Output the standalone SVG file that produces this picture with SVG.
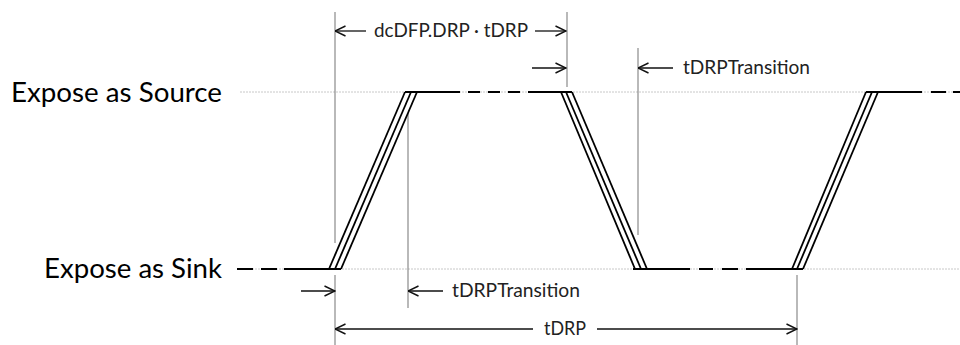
<svg xmlns="http://www.w3.org/2000/svg" width="960" height="345" viewBox="0 0 960 345">
  <defs>
    <marker id="arr" viewBox="0 0 12 12" refX="11.5" refY="6" markerWidth="12" markerHeight="12" markerUnits="userSpaceOnUse" orient="auto">
      <path d="M1,1 L11.5,6 L1,11" fill="none" stroke="#111" stroke-width="1.4"/>
    </marker>
  </defs>
  <style>
    .lbl { font-family: Lato, "Liberation Sans", sans-serif; font-size: 26px; fill: #000; }
    .dim { font-family: Lato, "Liberation Sans", sans-serif; font-size: 19px; fill: #222; }
    .guide { stroke: #c8c8c8; stroke-width: 1; stroke-dasharray: 2 1; fill: none; }
    .ref { stroke: #8a8a8a; stroke-width: 1.2; fill: none; }
    .wave { stroke: #000; stroke-width: 2.2; fill: none; }
    .slope { stroke: #000; stroke-width: 1.8; fill: none; }
    .dash { stroke: #000; stroke-width: 2.2; fill: none; }
    .conn { stroke: #111; stroke-width: 1.3; fill: none; marker-end: url(#arr); }
  </style>
  <rect width="960" height="345" fill="#fff"/>

  <g id="guides">
    <line class="guide" x1="240" y1="92" x2="960" y2="92"/>
    <line class="guide" x1="240" y1="269" x2="960" y2="269"/>
  </g>

  <g id="labels">
    <text class="lbl" x="11" y="102" textLength="211" lengthAdjust="spacingAndGlyphs">Expose as Source</text>
    <text class="lbl" x="44" y="278" textLength="178" lengthAdjust="spacingAndGlyphs">Expose as Sink</text>
  </g>

  <g id="reference-lines">
    <line class="ref" x1="335" y1="12" x2="335" y2="243"/>
    <line class="ref" x1="335" y1="275" x2="335" y2="345"/>
    <line class="ref" x1="567" y1="12" x2="567" y2="87"/>
    <line class="ref" x1="638" y1="48" x2="638" y2="235"/>
    <line class="ref" x1="408" y1="113" x2="408" y2="308"/>
    <line class="ref" x1="797" y1="275" x2="797" y2="345"/>
  </g>

  <g id="waveform">
    <!-- sink segment 1 -->
    <path class="dash" d="M237,269 H253 M261,269 H277"/>
    <line class="wave" x1="284" y1="269" x2="341" y2="269"/>
    <!-- rising edge 1 -->
    <line class="slope" x1="329" y1="269" x2="405" y2="92"/>
    <line class="slope" x1="335" y1="269" x2="411" y2="92"/>
    <line class="slope" x1="341" y1="269" x2="417" y2="92"/>
    <!-- source segment -->
    <line class="wave" x1="405" y1="92" x2="460" y2="92"/>
    <path class="dash" d="M468,92 H480 M488,92 H500 M508,92 H520"/>
    <line class="wave" x1="528" y1="92" x2="572" y2="92"/>
    <!-- falling edge -->
    <line class="slope" x1="561" y1="92" x2="635" y2="269"/>
    <line class="slope" x1="566" y1="92" x2="641" y2="269"/>
    <line class="slope" x1="572" y1="92" x2="647" y2="269"/>
    <!-- sink segment 2 -->
    <line class="wave" x1="633" y1="269" x2="690" y2="269"/>
    <path class="dash" d="M699,269 H713 M722,269 H738"/>
    <line class="wave" x1="746" y1="269" x2="803" y2="269"/>
    <!-- rising edge 2 -->
    <line class="slope" x1="792" y1="269" x2="866" y2="92"/>
    <line class="slope" x1="797" y1="269" x2="872" y2="92"/>
    <line class="slope" x1="803" y1="269" x2="878" y2="92"/>
    <!-- source segment 2 -->
    <line class="wave" x1="866" y1="92" x2="922" y2="92"/>
    <path class="dash" d="M931,92 H946 M953,92 H960"/>
  </g>

  <g id="connectors">
    <line class="conn" x1="366" y1="31" x2="335" y2="31"/>
    <line class="conn" x1="535" y1="31" x2="566" y2="31"/>
    <line class="conn" x1="532" y1="68" x2="566" y2="68"/>
    <line class="conn" x1="673" y1="68" x2="638" y2="68"/>
    <line class="conn" x1="301" y1="291" x2="335" y2="291"/>
    <line class="conn" x1="443" y1="291" x2="408" y2="291"/>
    <line class="conn" x1="533" y1="329" x2="335" y2="329"/>
    <line class="conn" x1="597" y1="329" x2="797" y2="329"/>
  </g>

  <g id="dimension-labels">
    <text class="dim" x="374" y="37" textLength="154" lengthAdjust="spacingAndGlyphs">dcDFP.DRP · tDRP</text>
    <text class="dim" x="683" y="74" textLength="127" lengthAdjust="spacingAndGlyphs">tDRPTransition</text>
    <text class="dim" x="452" y="297" textLength="128" lengthAdjust="spacingAndGlyphs">tDRPTransition</text>
    <text class="dim" x="544" y="335" textLength="42" lengthAdjust="spacingAndGlyphs">tDRP</text>
  </g>
</svg>
